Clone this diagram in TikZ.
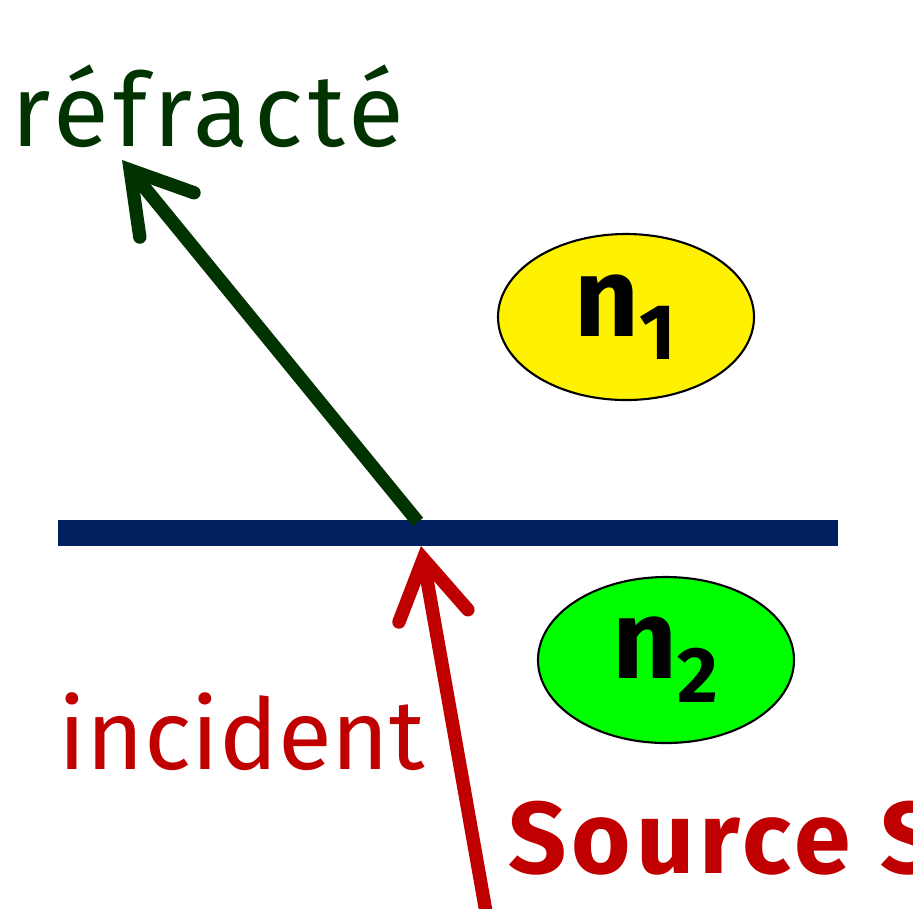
\documentclass[tikz,border=0pt]{standalone}
\usepackage{fontspec}
\setmainfont{Fira Sans}
\usepackage{tikz}
\usetikzlibrary{arrows.meta,shapes,positioning}
\definecolor{rfgreen}{RGB}{0,51,0}
\definecolor{rfred}{RGB}{192,0,0}
\definecolor{rfblue}{RGB}{0,32,96}
\definecolor{rflime}{RGB}{0,255,0}
\tikzstyle{ray} = [line width=3.8pt,-{Straight Barb[length=5.8mm,width=7mm,line cap=round,line join=miter]}]
\tikzstyle{medium} = [ellipse,draw=black,line width=0.6pt,minimum width=256*0.01cm,minimum height=166*0.01cm,font=\fontsize{32}{36}\selectfont\bfseries]

\begin{document}
\begin{tikzpicture}[x=0.01cm,y=-0.01cm]
\useasboundingbox (0,0) rectangle (913,908);
% interface
\coordinate (L) at (58,533);
\coordinate (R) at (838,533);
\draw[rfblue, line width=7.4pt] (L) -- (R);

% media
\node[medium, fill=yellow] (n1) at (626,317) {n$_{\mathbf 1}$};
\node[medium, fill=rflime] (n2) at (666,660) {n$_{\mathbf 2}$};

% rays
\coordinate (hit) at (418,522);
\coordinate (out) at (122,160);
\coordinate (src) at (486,912);
\coordinate (in) at (421,546);
\draw[ray, rfgreen] (hit) -- (out);
\draw[ray, rfred] (src) -- (in);

% labels
\node[rfgreen, font=\fontsize{29}{32}\selectfont\addfontfeature{LetterSpace=5}] (refr) at (208,106) {réfracté};
\node[rfred, font=\fontsize{28}{32}\selectfont] (inc) at (242,732) {incident};
\node[rfred, font=\fontsize{29}{32}\selectfont\bfseries\addfontfeature{LetterSpace=5}, anchor=west] (source) at (496,838) {Source S};
\end{tikzpicture}
\end{document}
